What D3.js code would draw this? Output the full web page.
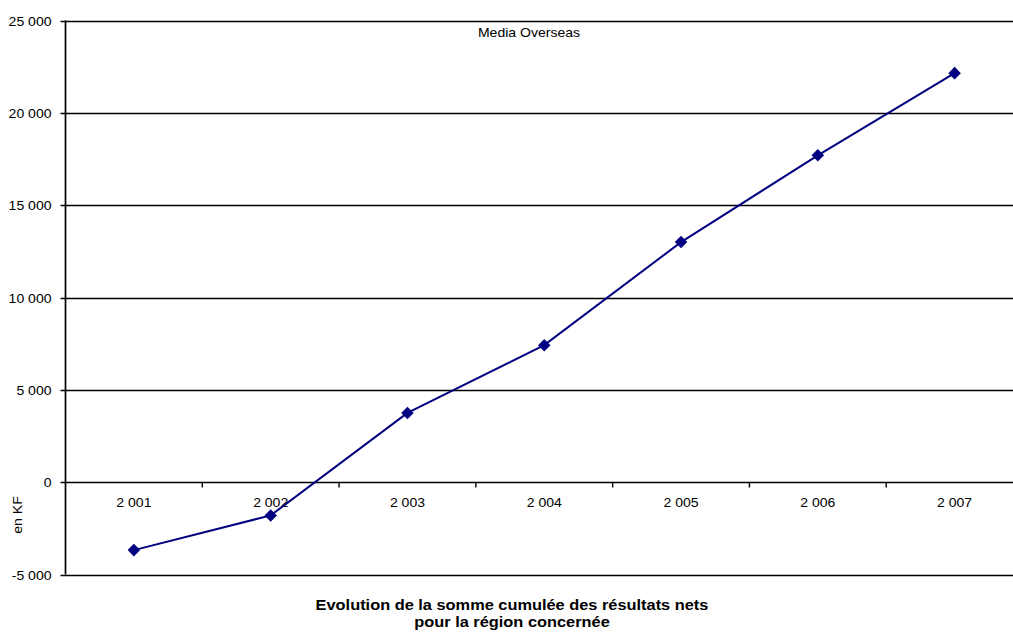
<!DOCTYPE html>
<html>
<head>
<meta http-equiv="Content-Type" content="text/html;charset=utf-8"/>
<script src="https://d3js.org/d3.v7.min.js"></script>
<style type="text/css">
body { margin: 0; background: #fff; }
text { font-family: "Liberation Sans", Arial, sans-serif; fill: #000; font-size: 12px; }
.grid line { stroke: #000; stroke-width: 1.7; }
.serie { fill: none; stroke: #000080; stroke-width: 2; }
.marker { fill: #000080; }
</style>
</head>
<body>
<script>
// Données
var years = ["2 001", "2 002", "2 003", "2 004", "2 005", "2 006", "2 007"];
var values = [-3680, -1800, 3750, 7420, 13000, 17700, 22150];
var yTicks = [-5000, 0, 5000, 10000, 15000, 20000, 25000];

var width = 1013,
    height = 636,
    plotLeft = 65.5,
    plotRight = 1023,
    plotTop = 20.5,
    plotBottom = 574.5,
    stretch = 1.17;   // le texte de l'original est un peu étiré en largeur

var svg = d3.select("body")
            .append("svg")
            .attr("width", width)
            .attr("height", height);

var x = d3.scaleBand()
          .domain(years)
          .range([plotLeft, plotRight]);

var y = d3.scaleLinear()
          .domain([-5000, 25000])
          .range([plotBottom, plotTop]);

var fmt = function(v) {
    return d3.format(",")(v).replace(/,/g, " ").replace("−", "-");
};

function place(px, py) {
    return "translate(" + px + "," + py + ") scale(" + stretch + ",1)";
}

// lignes horizontales
svg.append("g")
   .attr("class", "grid")
   .selectAll("line")
   .data(yTicks)
   .enter()
   .append("line")
   .attr("x1", plotLeft - 5)
   .attr("x2", plotRight)
   .attr("y1", function(d) { return Math.round(y(d)) + 0.5; })
   .attr("y2", function(d) { return Math.round(y(d)) + 0.5; });

// axe vertical
svg.append("line")
   .attr("x1", plotLeft).attr("x2", plotLeft)
   .attr("y1", plotTop).attr("y2", plotBottom)
   .style("stroke", "#000")
   .style("stroke-width", 1.7);

svg.append("g")
   .selectAll("text")
   .data(yTicks)
   .enter()
   .append("text")
   .attr("transform", function(d) { return place(plotLeft - 14, y(d) + 5); })
   .attr("text-anchor", "end")
   .text(fmt);

// graduations de l'axe des x sur la ligne zéro
var y0 = Math.round(y(0)) + 0.5;
svg.append("g")
   .selectAll("line")
   .data(years.slice(1))
   .enter()
   .append("line")
   .attr("x1", function(d) { return x(d); })
   .attr("x2", function(d) { return x(d); })
   .attr("y1", y0)
   .attr("y2", y0 + 5)
   .style("stroke", "#000")
   .style("stroke-width", 1.4);

svg.append("g")
   .selectAll("text")
   .data(years)
   .enter()
   .append("text")
   .attr("transform", function(d) { return place(x(d) + x.bandwidth() / 2, y0 + 24.5); })
   .attr("text-anchor", "middle")
   .text(function(d) { return d; });

// série
var pts = years.map(function(d, i) { return [x(d) + x.bandwidth() / 2, y(values[i])]; });

svg.append("path")
   .datum(pts)
   .attr("class", "serie")
   .attr("d", d3.line());

svg.append("g")
   .selectAll("path")
   .data(pts)
   .enter()
   .append("path")
   .attr("class", "marker")
   .attr("d", d3.symbol().type(d3.symbolDiamond2).size(100))
   .attr("transform", function(d) { return "translate(" + d[0] + "," + d[1] + ")"; });

// textes
svg.append("text")
   .attr("transform", place(529, 37))
   .attr("text-anchor", "middle")
   .text("Media Overseas");

svg.append("text")
   .attr("transform", "translate(22,515) rotate(-90) scale(" + stretch + ",1)")
   .attr("text-anchor", "middle")
   .text("en KF");

svg.append("text")
   .attr("transform", place(512, 610))
   .attr("text-anchor", "middle")
   .style("font-size", "14px")
   .style("font-weight", "bold")
   .text("Evolution de la somme cumulée des résultats nets");

svg.append("text")
   .attr("transform", place(512, 627))
   .attr("text-anchor", "middle")
   .style("font-size", "14px")
   .style("font-weight", "bold")
   .text("pour la région concernée");
</script>
</body>
</html>
